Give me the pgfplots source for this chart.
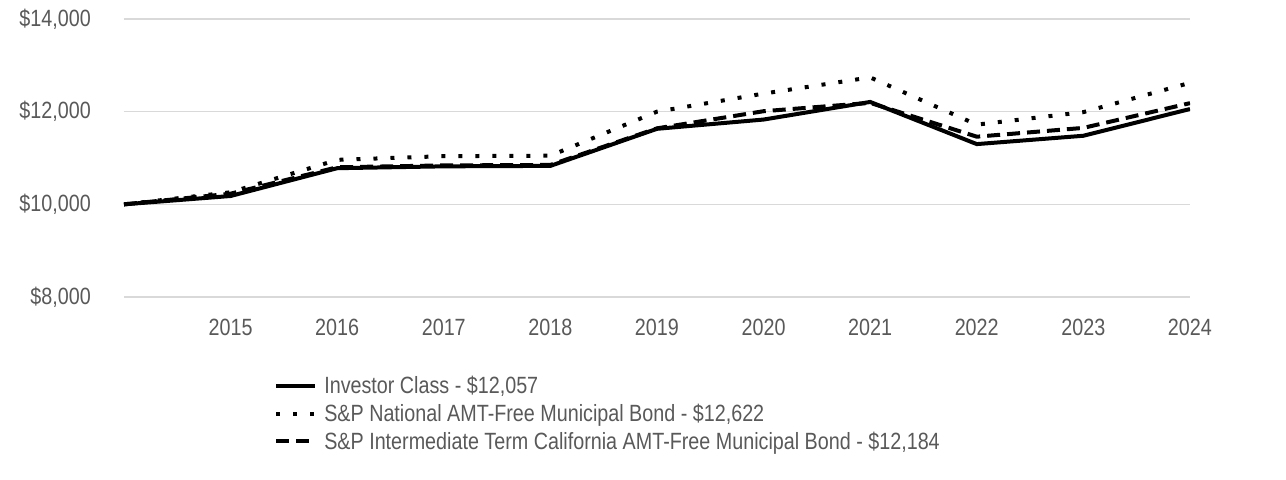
\documentclass[border=0pt]{standalone}
\usepackage{fontspec}
\setmainfont[FakeStretch=0.84]{Liberation Sans}
\usepackage{pgfplots}
\pgfplotsset{compat=1.18}
\definecolor{txt}{HTML}{595959}
\definecolor{gridc}{HTML}{D9D9D9}

\begin{document}
\begin{tikzpicture}
\useasboundingbox (-124bp,-183bp) rectangle (1162bp,297bp);
\begin{axis}[
    at={(0,0)}, anchor=south west,
    scale only axis, width=1066bp, height=278bp,
    xmin=2014, xmax=2024, ymin=8000, ymax=14000,
    xtick={2015,...,2024},
    ytick={8000,10000,12000,14000},
    scaled ticks=false,
    axis line style={draw=none},
    major tick length=0pt,
    ymajorgrids,
    grid style={gridc, line width=1.5bp},
    /pgf/number format/assume math mode=true,
    yticklabel={\$\pgfmathprintnumber{\tick}},
    y tick label style={/pgf/number format/1000 sep={,}, inner sep=0pt, xshift=-33bp},
    x tick label style={/pgf/number format/1000 sep={}, inner sep=0pt, yshift=-22bp},
    tick label style={font=\fontsize{23.5bp}{28bp}\selectfont, text=txt},
    legend style={at={(0.138,-0.277)}, anchor=north west, draw=none, fill=none,
        font=\fontsize{23.5bp}{28bp}\selectfont, text=txt, row sep=9bp,
        nodes={inner sep=0pt}},
    legend cell align=left,
    legend image code/.code={\draw[#1] (0bp,0bp) -- (39bp,0bp); \path (46bp,0bp);},
    every axis plot/.append style={line width=4bp, black},
]
\addplot[solid] coordinates {(2014,10000) (2015,10180) (2016,10780) (2017,10820) (2018,10830) (2019,11630) (2020,11830) (2021,12210) (2022,11300) (2023,11480) (2024,12057)};
\addlegendentry{Investor Class - \$12,057}
\addplot[dash pattern=on 4bp off 13bp] coordinates {(2014,10000) (2015,10260) (2016,10960) (2017,11040) (2018,11050) (2019,12000) (2020,12390) (2021,12740) (2022,11720) (2023,11990) (2024,12622)};
\addlegendentry{S\&P National AMT-Free Municipal Bond - \$12,622}
\addplot[dash pattern=on 13bp off 7bp] coordinates {(2014,10000) (2015,10230) (2016,10800) (2017,10840) (2018,10850) (2019,11640) (2020,12010) (2021,12190) (2022,11460) (2023,11650) (2024,12184)};
\addlegendentry{S\&P Intermediate Term California AMT-Free Municipal Bond - \$12,184}
\end{axis}
\end{tikzpicture}
\end{document}
